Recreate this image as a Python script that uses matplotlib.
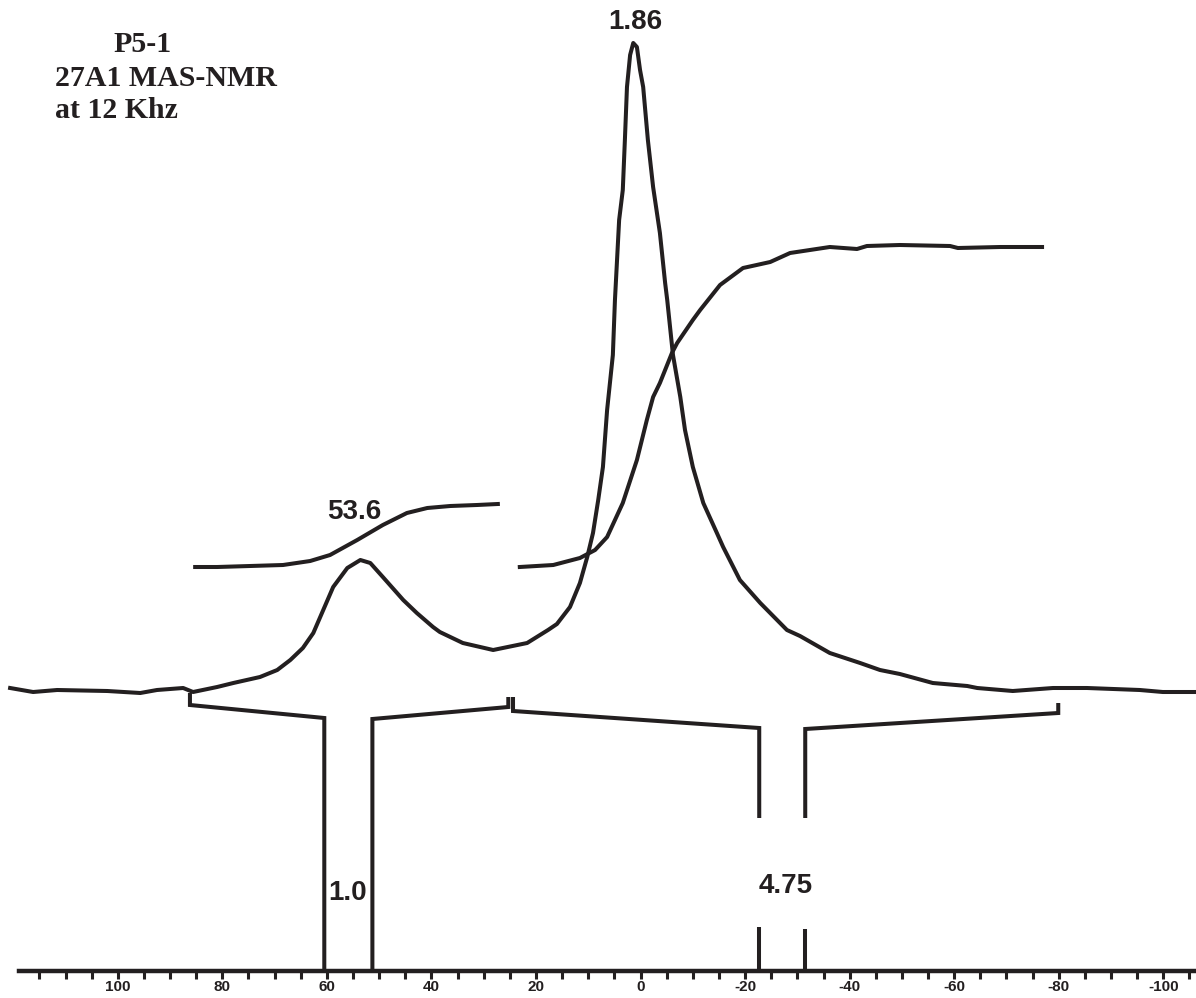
#!/usr/bin/env python3
"""
27Al MAS-NMR spectrum of sample P5-1 (12 kHz), redrawn as an old style
printout: spectrum, integral curves, integration brackets and ppm scale.

Output: out.png
"""

import matplotlib
matplotlib.use("Agg")
import matplotlib.pyplot as plt
from matplotlib.ticker import MultipleLocator, FixedLocator

# --- DATA ---
# spectrum (chemical shift in ppm, intensity above its own baseline)
SPEC_PPM = [120.6, 116.2, 111.6, 102.0, 95.7, 92.5, 87.5, 85.6, 81.0, 77.9,
            72.8, 69.5, 67.0, 64.6, 62.6, 60.7, 58.8, 56.1, 53.6, 51.7,
            49.3, 45.4, 42.8, 39.7, 38.4, 34.0, 28.2, 21.7, 17.7, 16.0,
            13.5, 11.6, 10.2, 9.1, 8.1, 7.2, 6.4, 5.3, 4.9, 4.1,
            3.4, 3.0, 2.6, 2.0, 1.4, 0.7, 0.1, -0.5, -1.4, -2.4,
            -3.7, -4.7, -5.1, -5.6, -6.2, -7.6, -8.5, -10.0, -12.0, -14.6,
            -15.8, -19.0, -22.9, -28.0, -30.5, -36.2, -42.0, -45.8, -49.6, -55.9,
            -62.5, -64.4, -71.2, -78.9, -85.4, -95.5, -99.9, -106.3]
SPEC_INT = [2, -2, 0, -1, -3, 0, 2, -2, 3, 7,
            13, 20, 30, 42, 57, 80, 103, 122, 130, 127,
            113, 90, 77, 63, 58, 47, 40, 47, 60, 66,
            83, 107, 133, 157, 190, 223, 280, 335, 390, 470,
            500, 550, 603, 635, 647, 643, 620, 603, 550, 503,
            457, 407, 390, 365, 335, 293, 260, 223, 187, 157,
            143, 110, 87, 60, 54, 37, 27, 20, 16, 7,
            4, 2, -1, 2, 2, 0, -2, -2]

# integral curves
INT1_PPM = [85.2, 81.0, 74.7, 68.4, 63.2, 59.4, 54.2, 49.3, 44.7, 40.8, 36.4, 31.3, 27.3]
INT1_VAL = [0, 0, 1, 2, 6, 12, 27, 42, 54, 59, 61, 62, 63]
INT2_PPM = [23.1, 16.7, 11.6, 8.7, 6.4, 3.4, 0.7, -1.2, -2.4, -3.7, -6.0, -7.0,
            -10.0, -11.4, -15.2, -19.6, -24.8, -28.6, -36.2, -41.4, -43.3,
            -49.6, -59.2, -60.7, -68.8, -76.8]
INT2_VAL = [0, 2, 9, 17, 30, 64, 107, 147, 170, 184, 214, 224,
            247, 257, 282, 299, 305, 314, 320, 318, 321,
            322, 321, 319, 320, 320]

# integration regions: bracket ends and legs (ppm)
REGION_ENDS = [(86.2, 25.3), (24.4, -79.9)]
REGION_LEGS = [(60.5, 51.3), (-22.7, -31.5)]
REGION_LABELS = ["1.0", "4.75"]

PEAK_LABELS = [("53.6", 54.7), ("1.86", 1.1)]

MAJOR_TICKS = [100, 80, 60, 40, 20, 0, -20, -40, -60, -80, -100]
TITLE_LINES = ["P5-1", "27A1 MAS-NMR", "at 12 Khz"]

# --- LAYOUT ---
W, H = 1196, 998
AXIS_Y = 970.6          # pixel row of the ppm axis
SPEC_BASE = 280.6       # spectrum baseline above axis
INT_BASE = 403.6        # integral baseline above axis
INK = "#231f20"
LW = 2.9


def draw_brackets(ax):
    """Integration brackets with the legs running down to the axis."""
    (l_end, r_end), (l2_end, r2_end) = REGION_ENDS
    (a, b), (c, d) = REGION_LEGS
    segs = [
        [(l_end, 277.6), (l_end, 265.6), (a, 252.6), (a, 0)],
        [(b, 0), (b, 251.6), (r_end, 263.6), (r_end, 273.6)],
        [(l2_end, 273.6), (l2_end, 259.6), (c, 242.6), (c, 152.6)],
        [(c, 43.6), (c, 0)],
        [(d, 0), (d, 41.6)],
        [(d, 152.6), (d, 241.6), (r2_end, 257.6), (r2_end, 267.6)],
    ]
    for s in segs:
        xs, ys = zip(*s)
        ax.plot(xs, ys, color=INK, lw=LW, solid_joinstyle="miter",
                solid_capstyle="butt")


def main():
    fig = plt.figure(figsize=(W / 100, H / 100), dpi=100)
    ax = fig.add_axes([19 / W, (H - AXIS_Y) / H, (W - 19) / W, AXIS_Y / H])
    ax.set_xlim(118.9, -106.25)
    ax.set_ylim(0, AXIS_Y)

    # spectrum and integrals
    ax.plot(SPEC_PPM, [v + SPEC_BASE for v in SPEC_INT], color=INK, lw=LW,
            clip_on=False, solid_joinstyle="round")
    ax.plot(INT1_PPM, [v + INT_BASE for v in INT1_VAL], color=INK, lw=LW)
    ax.plot(INT2_PPM, [v + INT_BASE for v in INT2_VAL], color=INK, lw=LW)

    draw_brackets(ax)

    lab = dict(family="Liberation Sans", fontweight="bold", fontsize=20,
               color=INK, ha="center")
    ax.text(PEAK_LABELS[0][1], 445.6, PEAK_LABELS[0][0], va="bottom", **lab)
    ax.text(PEAK_LABELS[1][1], 936.0, PEAK_LABELS[1][0], va="bottom", **lab)
    ax.text(56.1, 78.0, REGION_LABELS[0], va="center", **lab)
    ax.text(-27.7, 84.6, REGION_LABELS[1], va="center", **lab)

    # title block
    ttl = dict(family="Liberation Serif", fontweight="bold", fontsize=21.5,
               color=INK, ha="left", va="baseline")
    fig.text(113 / W, 1 - 52 / H, TITLE_LINES[0], **ttl)
    fig.text(55 / W, 1 - 86 / H, TITLE_LINES[1], **ttl)
    fig.text(55 / W, 1 - 118 / H, TITLE_LINES[2], **ttl)

    # ppm axis
    for side in ["left", "right", "top"]:
        ax.spines[side].set_visible(False)
    ax.spines["bottom"].set_linewidth(3.2)
    ax.spines["bottom"].set_color(INK)
    ax.set_yticks([])
    ax.xaxis.set_major_locator(FixedLocator(MAJOR_TICKS))
    ax.xaxis.set_minor_locator(MultipleLocator(5))
    ax.tick_params(axis="x", which="both", direction="out", length=5.5,
                   width=2.2, color=INK, pad=1.2)
    ax.set_xticklabels([str(t) for t in MAJOR_TICKS])
    for t in ax.get_xticklabels():
        t.set_family("Liberation Sans")
        t.set_fontweight("bold")
        t.set_fontsize(11)
        t.set_color(INK)

    fig.savefig("out.png", dpi=100)
    plt.close(fig)


if __name__ == "__main__":
    main()
